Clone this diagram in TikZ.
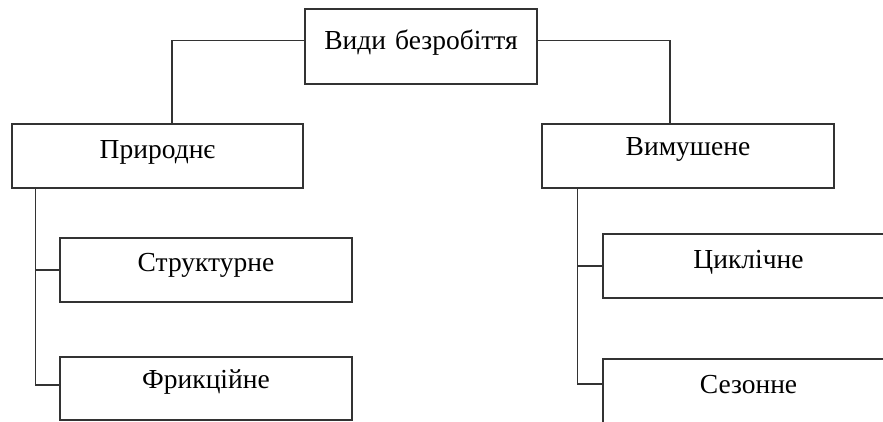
\documentclass[tikz,border=0pt]{standalone}
\usepackage{fontspec}
\setmainfont{Liberation Serif}
\begin{document}
\begin{tikzpicture}[x=1pt,y=-1pt,
  box/.style={draw=black!80, line width=1.2pt, inner xsep=0pt, inner ysep=0pt,
    align=center, anchor=base, font=\fontsize{27.5}{31}\selectfont},
  conn/.style={draw=black!80, line width=1.2pt}]
\clip (0,0) rectangle (883,421);
\fill[white] (0,0) rectangle (883,421);
\node[box, text width=232pt, text height=40pt, text depth=35pt] (top) at (421,49) {Види безробіття};
\node[box, text width=291pt, text height=34pt, text depth=30pt] (prir) at (157.5,158) {Природнє};
\node[box, text width=292pt, text height=31pt, text depth=33pt] (vym) at (688,155) {Вимушене};
\node[box, text width=292pt, text height=33pt, text depth=31pt] (strukt) at (206,271) {Структурне};
\node[box, text width=292pt, text height=31pt, text depth=32pt] (fryk) at (206,388) {Фрикційне};
\node[box, text width=291pt, text height=34pt, text depth=30pt] (cykl) at (748.5,268) {Циклічне};
\node[box, text width=291pt, text height=34pt, text depth=30pt] (sez) at (748.5,393) {Сезонне};
\draw[conn] ([yshift=-32pt]top.north west) -| ([xshift=14.5pt]prir.north);
\draw[conn] ([yshift=-32pt]top.north east) -| ([xshift=-18pt]vym.north);
\coordinate (tl) at ([xshift=24pt]prir.south west);
\coordinate (tr) at ([xshift=36pt]vym.south west);
\draw[conn] (tl) |- ([yshift=3.5pt]fryk.west);
\draw[conn] (strukt.west -| tl) -- (strukt.west);
\draw[conn] (tr) |- ([yshift=7pt]sez.west);
\draw[conn] (cykl.west -| tr) -- (cykl.west);
\end{tikzpicture}
\end{document}
